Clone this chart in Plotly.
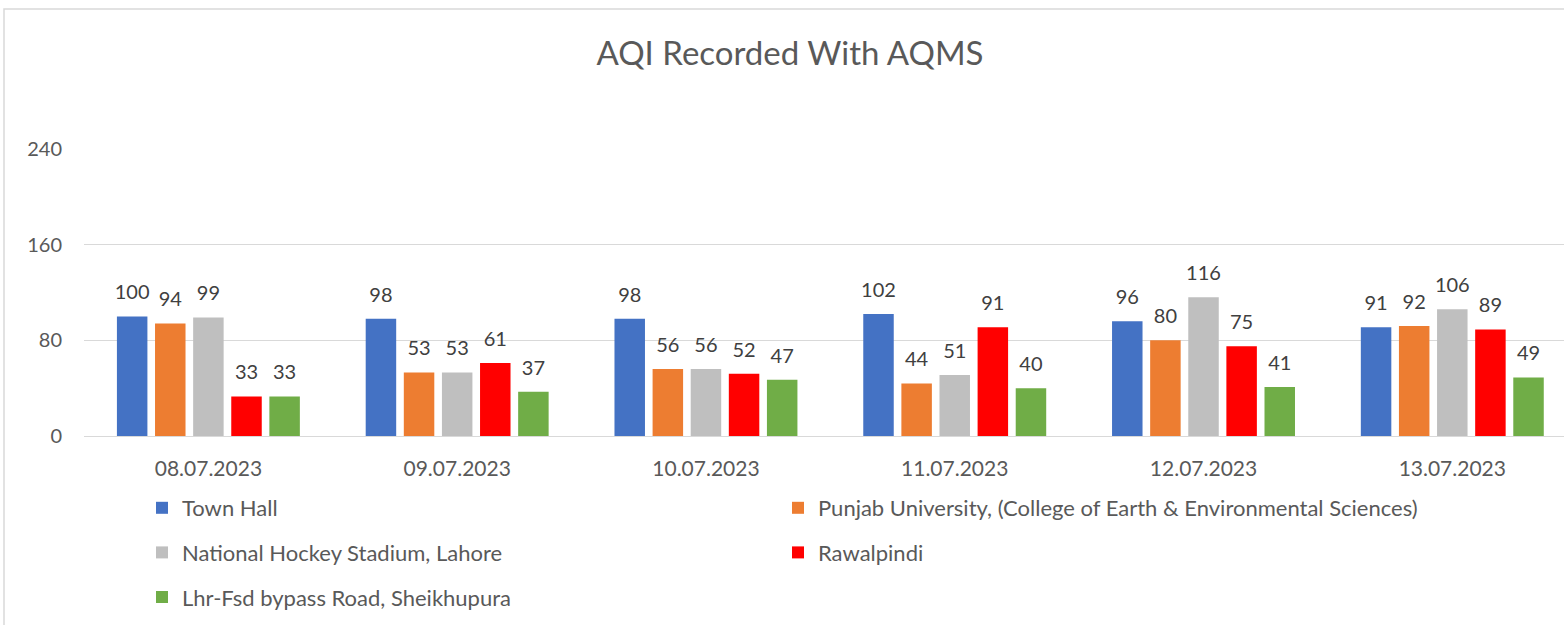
import plotly.graph_objects as go

dates = ["08.07.2023", "09.07.2023", "10.07.2023", "11.07.2023", "12.07.2023", "13.07.2023"]
town_hall = [100, 98, 98, 102, 96, 91]
punjab_univ = [94, 53, 56, 44, 80, 92]
hockey_stadium = [99, 53, 56, 51, 116, 106]
rawalpindi = [33, 61, 52, 91, 75, 89]
lhr_fsd = [33, 37, 47, 40, 41, 49]

series = [
    ("Town Hall", town_hall, "#4472C4", "legend"),
    ("Punjab University, (College of Earth & Environmental Sciences)", punjab_univ, "#ED7D31", "legend2"),
    ("National Hockey Stadium, Lahore", hockey_stadium, "#BFBFBF", "legend"),
    ("Rawalpindi", rawalpindi, "#FF0000", "legend2"),
    ("Lhr-Fsd bypass Road, Sheikhupura", lhr_fsd, "#70AD47", "legend"),
]

FONT = "Lato"
W, H = 1564, 625
L, R, T, B = 84, 0, 149, 189

fig = go.Figure()
for name, vals, color, lg in series:
    fig.add_trace(go.Bar(
        x=dates, y=vals, name=name, marker=dict(color=color, line=dict(width=0)),
        legend=lg, legendgroup=name, hoverinfo="skip",
    ))
for name, vals, color, lg in series:
    fig.add_trace(go.Scatter(
        x=dates, y=vals, mode="markers+text", text=[str(v) for v in vals],
        textposition="top center", marker=dict(size=18, opacity=0),
        textfont=dict(family=FONT, size=20, color="#404040"),
        showlegend=False, hoverinfo="skip", cliponaxis=False,
    ))

def cx(px):
    return px / W

def cy(py):
    return 1 - py / H

fig.update_layout(
    width=W, height=H,
    margin=dict(l=L, r=R, t=T, b=B, autoexpand=False),
    paper_bgcolor="white", plot_bgcolor="white",
    barmode="group", bargap=0.234, bargroupgap=0.2,
    scattermode="group", scattergap=0.234,
    font=dict(family=FONT, color="#595959"),
    title=dict(text="AQI Recorded With AQMS", x=cx(790), xref="container", xanchor="center",
               y=cy(53), yref="container", yanchor="middle",
               font=dict(family=FONT, size=33, color="#595959")),
    xaxis=dict(type="category", range=[-0.5, 5.449], showgrid=False, showline=True,
               linecolor="#D9D9D9", linewidth=1, ticks="", ticklabelstandoff=14, tickangle=0,
               tickfont=dict(family=FONT, size=21, color="#595959"), fixedrange=True),
    yaxis=dict(range=[0, 240], tickvals=[0, 80, 160, 240], showgrid=True, gridcolor="#D9D9D9",
               gridwidth=1, zeroline=False, showline=False, ticks="", ticklabelstandoff=21,
               tickfont=dict(family=FONT, size=20, color="#595959"), fixedrange=True),
    legend=dict(xref="container", yref="container", x=cx(142), y=cy(487), xanchor="left", yanchor="top",
                orientation="v", tracegroupgap=13, font=dict(family=FONT, size=22, color="#595959"),
                bgcolor="rgba(0,0,0,0)"),
    legend2=dict(xref="container", yref="container", x=cx(778), y=cy(487), xanchor="left", yanchor="top",
                 orientation="v", tracegroupgap=13, font=dict(family=FONT, size=22, color="#595959"),
                 bgcolor="rgba(0,0,0,0)"),
    shapes=[dict(type="rect", xref="paper", yref="paper",
                 x0=(4 - L) / (W - L - R), x1=1.2, y0=-1.5, y1=(H - B - 9) / (H - T - B),
                 line=dict(color="#D9D9D9", width=1.5), fillcolor="rgba(0,0,0,0)", layer="below")],
)

fig.write_html("out.html", config={"displayModeBar": False},
               post_script="document.body.style.margin='0';")
